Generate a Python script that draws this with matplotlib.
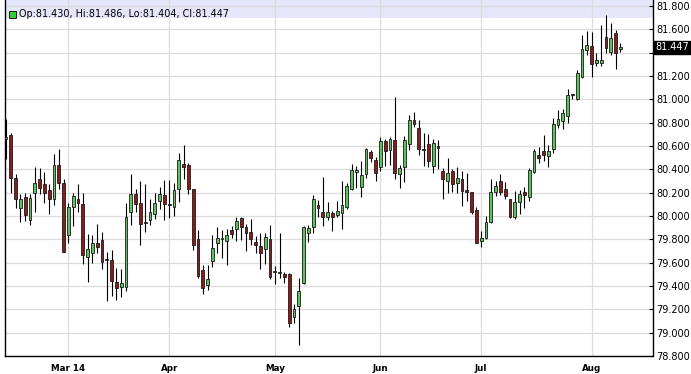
import numpy as np
import pandas as pd
import matplotlib
matplotlib.use("Agg")
import matplotlib.pyplot as plt
from matplotlib.patches import Rectangle

# Daily candles, business days 2014-02-12 .. 2014-08-11
dates = pd.bdate_range("2014-02-12", "2014-08-11")

opens = [
    80.663, 80.691, 80.323, 80.071, 80.166, 79.966, 80.194, 80.320, 80.271, 80.223,
    80.149, 80.434, 80.286, 79.837, 80.080, 80.143, 80.106, 79.651, 79.686, 79.766,
    79.791, 79.625, 79.623, 79.431, 79.394, 79.394, 80.037, 80.191, 80.114, 79.943,
    79.966, 80.014, 80.129, 80.183, 80.100, 80.080, 80.229, 80.449, 80.434, 80.229,
    79.800, 79.534, 79.411, 79.614, 79.771, 79.800, 79.789, 79.877, 79.886, 79.983,
    79.903, 79.863, 79.777, 79.743, 79.714, 79.800, 79.520, 79.520, 79.503, 79.503,
    79.137, 79.231, 79.423, 79.857, 79.903, 80.094, 80.037, 79.994, 80.029, 80.009,
    80.029, 80.080, 80.231, 80.374, 80.251, 80.357, 80.551, 80.480, 80.423, 80.643,
    80.566, 80.651, 80.357, 80.423, 80.617, 80.823, 80.751, 80.566, 80.617, 80.431,
    80.600, 80.389, 80.303, 80.389, 80.280, 80.317, 80.223, 80.206, 80.051, 79.789,
    79.809, 79.951, 80.209, 80.300, 80.229, 80.146, 79.994, 80.123, 80.203, 80.160,
    80.374, 80.523, 80.560, 80.510, 80.571, 80.777, 80.814, 80.857, 81.040, 81.006,
    81.194, 81.423, 81.457, 81.314, 81.314, 81.537, 81.409, 81.566, 81.430,
]
highs = [
    80.834, 80.714, 80.357, 80.186, 80.200, 80.186, 80.423, 80.414, 80.377, 80.271,
    80.529, 80.577, 80.314, 80.114, 80.200, 80.277, 80.200, 79.849, 79.834, 79.934,
    79.863, 79.691, 79.706, 79.557, 79.549, 80.114, 80.357, 80.234, 80.297, 80.271,
    80.149, 80.200, 80.251, 80.306, 80.306, 80.286, 80.537, 80.606, 80.451, 80.232,
    79.877, 79.577, 79.577, 79.834, 79.909, 79.877, 79.886, 79.914, 79.994, 79.994,
    79.929, 79.971, 79.829, 79.851, 79.851, 79.920, 79.575, 79.857, 79.523, 79.509,
    79.246, 79.466, 79.914, 79.923, 80.180, 80.137, 80.331, 80.117, 80.043, 80.129,
    80.300, 80.280, 80.446, 80.429, 80.471, 80.586, 80.566, 80.509, 80.680, 80.657,
    80.680, 81.023, 80.437, 80.686, 80.866, 80.894, 80.823, 80.709, 80.703, 80.660,
    80.650, 80.409, 80.494, 80.400, 80.423, 80.389, 80.371, 80.209, 80.080, 79.871,
    80.000, 80.314, 80.300, 80.357, 80.294, 80.149, 80.214, 80.223, 80.246, 80.409,
    80.574, 80.594, 80.690, 80.610, 80.843, 80.906, 80.914, 81.091, 81.049, 81.251,
    81.551, 81.586, 81.580, 81.394, 81.634, 81.723, 81.651, 81.594, 81.486,
]
lows = [
    80.491, 80.200, 80.071, 79.951, 79.957, 79.923, 80.034, 80.186, 80.114, 80.014,
    80.091, 80.234, 79.688, 79.771, 79.914, 80.037, 79.586, 79.434, 79.600, 79.686,
    79.543, 79.271, 79.314, 79.280, 79.309, 79.357, 79.920, 80.034, 79.751, 79.863,
    79.926, 79.977, 80.063, 79.969, 79.986, 80.000, 80.120, 80.314, 80.191, 79.709,
    79.466, 79.334, 79.366, 79.566, 79.680, 79.643, 79.580, 79.811, 79.786, 79.794,
    79.700, 79.754, 79.686, 79.549, 79.586, 79.457, 79.415, 79.468, 79.429, 79.051,
    79.080, 78.894, 79.420, 79.780, 79.851, 79.994, 79.917, 79.966, 79.874, 79.994,
    79.889, 80.060, 80.223, 80.237, 80.166, 80.323, 80.466, 80.303, 80.389, 80.431,
    80.437, 80.314, 80.237, 80.294, 80.566, 80.766, 80.523, 80.429, 80.417, 80.371,
    80.400, 80.143, 80.194, 80.209, 80.194, 80.089, 80.131, 80.014, 79.766, 79.737,
    79.800, 79.937, 80.171, 80.180, 80.143, 79.980, 79.974, 80.017, 80.071, 80.131,
    80.366, 80.457, 80.470, 80.420, 80.537, 80.757, 80.743, 80.800, 81.000, 80.994,
    81.180, 81.377, 81.194, 81.286, 81.286, 81.394, 81.380, 81.263, 81.404,
]
closes = [
    80.680, 80.326, 80.143, 80.143, 80.009, 80.151, 80.286, 80.243, 80.200, 80.143,
    80.434, 80.286, 79.691, 80.080, 80.171, 80.114, 79.669, 79.720, 79.771, 79.734,
    79.609, 79.620, 79.443, 79.386, 79.423, 79.994, 80.191, 80.106, 79.934, 79.940,
    80.037, 80.114, 80.186, 80.106, 80.097, 80.220, 80.477, 80.420, 80.229, 79.751,
    79.486, 79.386, 79.457, 79.729, 79.809, 79.809, 79.834, 79.843, 79.954, 79.906,
    79.857, 79.806, 79.751, 79.680, 79.820, 79.480, 79.525, 79.515, 79.480, 79.086,
    79.200, 79.357, 79.909, 79.894, 80.146, 80.071, 79.994, 80.037, 79.989, 80.043,
    80.094, 80.257, 80.394, 80.394, 80.351, 80.574, 80.494, 80.366, 80.643, 80.557,
    80.657, 80.366, 80.409, 80.651, 80.823, 80.786, 80.571, 80.563, 80.469, 80.629,
    80.580, 80.314, 80.366, 80.271, 80.323, 80.217, 80.209, 80.031, 79.771, 79.809,
    79.951, 80.209, 80.260, 80.209, 80.171, 79.989, 80.123, 80.186, 80.180, 80.394,
    80.560, 80.500, 80.520, 80.560, 80.786, 80.834, 80.880, 81.034, 81.037, 81.223,
    81.434, 81.463, 81.300, 81.334, 81.334, 81.437, 81.529, 81.394, 81.447,
]

month_labels = ["Mar 14", "Apr", "May", "Jun", "Jul", "Aug"]
y_ticks = [78.8, 79.0, 79.2, 79.4, 79.6, 79.8, 80.0, 80.2, 80.4, 80.6, 80.8, 81.0, 81.2, 81.4, 81.6, 81.8]

df = pd.DataFrame({"Open": opens, "High": highs, "Low": lows, "Close": closes}, index=dates)
x = np.arange(len(df))

up_col = "#5cc45c"
down_col = "#8b1c1c"
edge_col = "#1a1a1a"
grid_col = "#dcdcdc"

fig = plt.figure(figsize=(6.91, 3.74), dpi=100)
ax = fig.add_axes([4.7 / 691, 18 / 374, (652.5 - 4.7) / 691, 356 / 374])

# header band
ax.axhspan(81.697, 81.9, color="#e6e6fa", zorder=0, lw=0)

# wicks
ax.vlines(x, df["Low"], df["High"], color="black", lw=0.8, zorder=2)

# bodies
up = df["Close"] >= df["Open"]
bottoms = np.minimum(df["Open"], df["Close"])
heights = np.maximum((df["Close"] - df["Open"]).abs(), 0.008)
ax.bar(x[up], heights[up], bottom=bottoms[up], width=0.58,
       color=up_col, edgecolor=edge_col, linewidth=0.6, zorder=3)
ax.bar(x[~up], heights[~up], bottom=bottoms[~up], width=0.58,
       color=down_col, edgecolor=edge_col, linewidth=0.6, zorder=3)

ax.set_xlim(-0.27, 134.7)
ax.set_ylim(78.8, 81.851)

# month ticks at first trading day of each month
months = df.index.to_period("M")
first_idx = [i for i in range(1, len(df)) if months[i] != months[i - 1]]
ax.set_xticks(first_idx)
ax.set_xticklabels(month_labels, fontsize=6.3, fontweight="bold", family="DejaVu Sans")
ax.tick_params(axis="x", length=0, pad=5.5)

ax.yaxis.tick_right()
ax.set_yticks(y_ticks)
ax.set_yticklabels(["" if abs(v - 81.4) < 1e-6 else f"{v:.3f}" for v in y_ticks],
                   fontsize=7, family="DejaVu Sans")
ax.tick_params(axis="y", direction="in", length=3, width=0.8, pad=3)

ax.grid(True, color=grid_col, lw=0.9, zorder=1)
ax.set_axisbelow(True)
ax.spines["top"].set_visible(False)
for s in ["left", "bottom", "right"]:
    ax.spines[s].set_color("black")
    ax.spines[s].set_linewidth(1.0)

# last price box
last = closes[-1]
ax.text(1.004, last, f"{last:.3f}", transform=ax.get_yaxis_transform(),
        ha="left", va="center", fontsize=7, color="white", family="DejaVu Sans",
        bbox=dict(boxstyle="square,pad=0.15", facecolor="black", edgecolor="black"))

# OHLC header
fig.patches.append(Rectangle((8.5 / 691, 1 - 18 / 374), 7.5 / 691, 7.5 / 374,
                             transform=fig.transFigure, facecolor="#33cc33",
                             edgecolor="black", linewidth=0.6))
fig.text(19 / 691, 1 - 14 / 374,
         f"Op:{opens[-1]:.3f}, Hi:{highs[-1]:.3f}, Lo:{lows[-1]:.3f}, Cl:{closes[-1]:.3f}",
         fontsize=6.9, family="DejaVu Sans", va="center", ha="left")

plt.savefig("out.png", dpi=100)
plt.close()
